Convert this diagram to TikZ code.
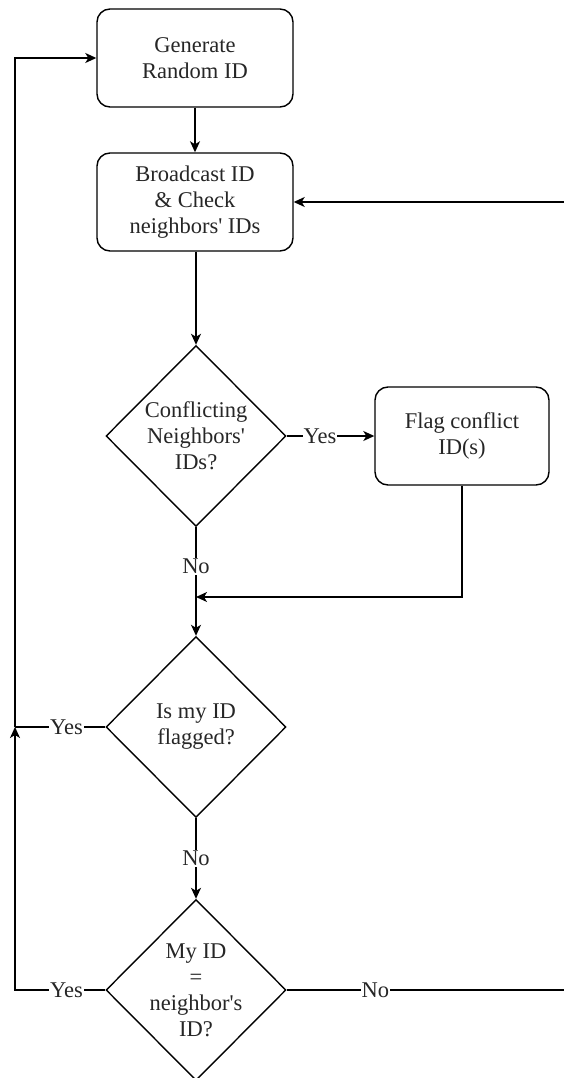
\documentclass[tikz,border=0pt]{standalone}
\usepackage{fontspec}
\setmainfont{Liberation Serif}
\newfontfamily\tnr{Liberation Serif}
\usetikzlibrary{shapes.geometric,arrows.meta}
\tikzset{
  procbox/.style={draw, rounded corners=13pt, minimum width=196pt, minimum height=98pt, align=center, inner sep=2pt},
  decision/.style={draw, diamond, aspect=1, minimum width=180pt, minimum height=181pt, inner sep=0pt},
  dtext/.style={align=center, inner sep=0pt},
  lbl/.style={fill=white, inner sep=1pt},
  conn/.style={line width=1.4pt},
  arr/.style={conn, -{Stealth[length=11pt,width=10pt,inset=3pt]}},
}
\begin{document}
\begin{tikzpicture}[x=1pt, y=-1pt, line width=1.4pt, font=\tnr\fontsize{22.5}{26}\selectfont, text=black!85]
\path[use as bounding box] (0,0) rectangle (564,1078);
\clip (0,0) rectangle (564,1078);
\node[procbox] (gen) at (195,58) {Generate\\Random ID};
\node[procbox] (bc) at (195,202) {Broadcast ID\\\& Check\\neighbors' IDs};
\node[decision, label={[dtext]center:Conflicting\\Neighbors'\\IDs?}] (d1) at (196,436) {};
\node[procbox, minimum width=174pt] (flag) at (462,436) {Flag conflict\\ID(s)};
\node[decision, label={[dtext]center:Is my ID\\flagged?}] (d2) at (196,727) {};
\node[decision, label={[dtext]center:My ID\\=\\neighbor's\\ID?}] (d3) at (196,990) {};
\coordinate (m1) at (196,597);
\coordinate (fc) at (462,597);
\coordinate (c2) at (15,727);
\coordinate (c3) at (15,990);
\coordinate (c1) at (15,58);
\coordinate (rb) at (564,990);
\coordinate (rt) at (564,202);
\draw[arr] (gen.south) -- (bc.north);
\draw[arr] (bc.south -| d1.north) -- (d1.north);
\draw[arr] (d1.east) -- node[lbl, pos=0.38]{Yes} (flag.west);
\draw[arr] (flag.south) -- (fc) -- (m1);
\draw[conn] (d1.south) -- node[lbl, pos=0.56]{No} (m1);
\draw[arr] (m1) -- (d2.north);
\draw[arr] (d2.south) -- node[lbl, pos=0.5]{No} (d3.north);
\draw[conn] (d2.west) -- node[lbl, pos=0.43]{Yes} (c2);
\draw[arr] (d3.west) -- node[lbl, pos=0.43]{Yes} (c3) -- (c2);
\draw[arr] (c2) -- (c1) -- (gen.west);
\draw[conn] (d3.east) -- node[lbl, pos=0.32]{No} (rb);
\draw[arr] (rt) -- (bc.east);
\end{tikzpicture}
\end{document}
